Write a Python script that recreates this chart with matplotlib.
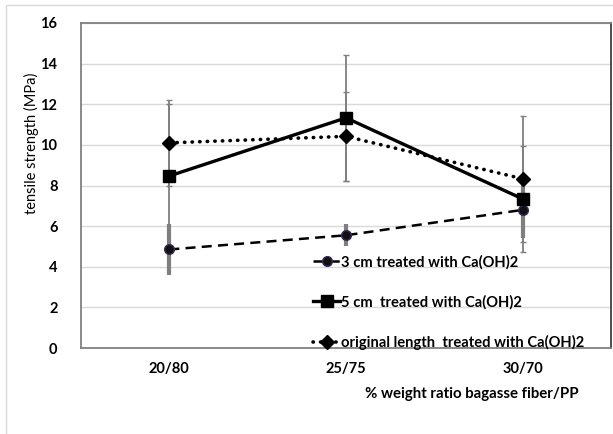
import matplotlib.pyplot as plt
import matplotlib.patches as patches

# tensile strength vs fiber ratio, three fiber lengths (Ca(OH)2 treated)
categories = ["20/80", "25/75", "30/70"]

cm3_vals = [4.85, 5.55, 6.8]
cm3_err = [1.25, 0.55, 1.4]

cm5_vals = [8.47, 11.33, 7.34]
cm5_err = [3.55, 3.1, 2.6]

orig_vals = [10.1, 10.42, 8.33]
orig_err = [2.1, 2.2, 3.1]

labels = ["3 cm treated with Ca(OH)2",
          "5 cm  treated with Ca(OH)2",
          "original length  treated with Ca(OH)2"]

plt.rcParams['font.family'] = ['Lato', 'DejaVu Sans']

fig = plt.figure(figsize=(6.13, 4.34), dpi=100)
ax = fig.add_axes([81 / 613, 1 - 348 / 434, 530 / 613, 325 / 434])

# light chart border
fig.patches.append(patches.Rectangle((6 / 613, -0.01), 1.0, 1 - 5 / 434 + 0.01,
                                     transform=fig.transFigure, fill=False,
                                     edgecolor='#d9d9d9', linewidth=1.0))

x = list(range(len(categories)))
grey = '#7f7f7f'

ax.errorbar(x, orig_vals, yerr=orig_err, fmt='none', ecolor=grey,
            elinewidth=1.3, capsize=2.5, capthick=1.0, zorder=2)
ax.errorbar(x, cm5_vals, yerr=cm5_err, fmt='none', ecolor=grey,
            elinewidth=1.3, capsize=2.5, capthick=1.0, zorder=2)
ax.errorbar(x, cm3_vals, yerr=cm3_err, fmt='none', ecolor=grey,
            elinewidth=3.0, capsize=0, zorder=2)

ax.plot(x, cm3_vals, linestyle=(0, (4, 2.5)), color='black', linewidth=1.8,
        marker='o', markersize=7, markerfacecolor='#111111',
        markeredgecolor='#3b2a5a', markeredgewidth=1.0, label=labels[0], zorder=3)
ax.plot(x, cm5_vals, linestyle='-', color='black', linewidth=2.4,
        marker='s', markersize=8.5, label=labels[1], zorder=3)
ax.plot(x, orig_vals, linestyle=(0, (0.1, 2.0)), color='black', linewidth=2.6,
        dash_capstyle='round', marker='D', markersize=7, label=labels[2], zorder=3)

ax.set_xlim(-0.5, 2.5)
ax.set_ylim(0, 16)
ax.set_yticks(range(0, 17, 2))
ax.set_xticks(x)
ax.set_xticklabels(categories)
ax.tick_params(axis='both', length=0, labelsize=10.5, pad=10)
for lbl in ax.get_xticklabels() + ax.get_yticklabels():
    lbl.set_fontweight('bold')
ax.tick_params(axis='y', pad=17)

ax.grid(axis='y', color='#d9d9d9', linewidth=1.0)
ax.set_axisbelow(True)
for s in ax.spines.values():
    s.set_color('#808080')
    s.set_linewidth(1.3)
ax.spines['right'].set_color('#404040')

ax.set_ylabel("tensile strength (MPa)", fontsize=10.5)
ax.yaxis.set_label_coords(-0.079, 0.63)
fig.text(472 / 613, 1 - 394 / 434, "% weight ratio bagasse fiber/PP",
         ha='center', va='center', fontsize=10.8, fontweight='bold')

leg = ax.legend(loc='lower left', bbox_to_anchor=(0.438, -0.007), frameon=False,
                prop={'size': 10.6, 'weight': 'bold'}, labelspacing=1.75,
                handlelength=1.85, handletextpad=0.05, borderpad=0,
                borderaxespad=0)

fig.savefig("out.png", dpi=100)
